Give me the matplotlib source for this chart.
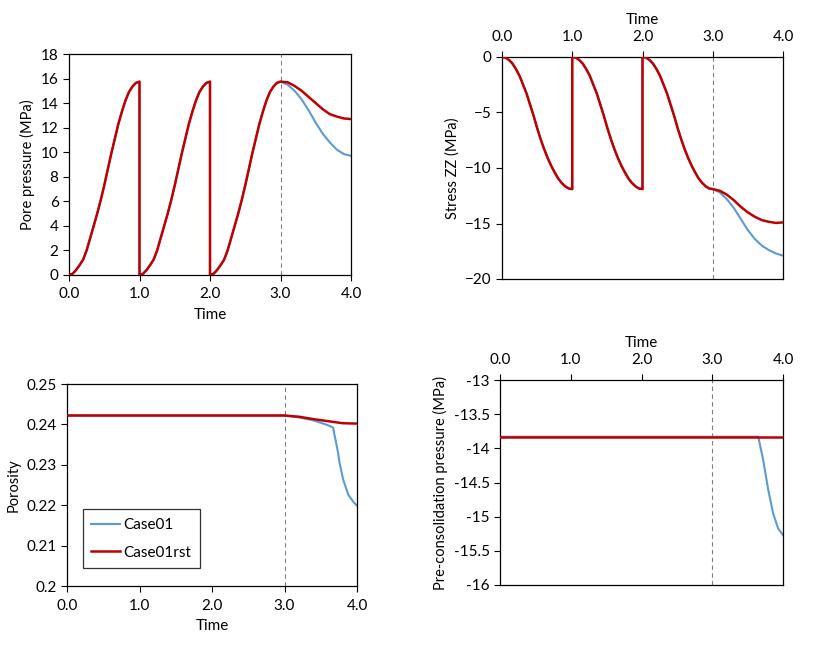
import matplotlib.pyplot as plt
import numpy as np

plt.rcParams['font.family'] = ['Lato', 'DejaVu Sans']
plt.rcParams['font.size'] = 11

BLUE = '#5B9BD5'
RED = '#C00000'

# one loading cycle (fraction of cycle)
cycle_t = [0, 0.05, 0.1, 0.15, 0.2, 0.25, 0.3, 0.35, 0.4, 0.45, 0.5,
           0.55, 0.6, 0.65, 0.7, 0.75, 0.8, 0.85, 0.9, 0.95, 1.0]
cycle_pp = [0, 0.1, 0.4, 0.8, 1.25, 2.0, 3.0, 4.0, 5.0, 6.1, 7.3,
            8.6, 9.9, 11.1, 12.3, 13.3, 14.2, 14.9, 15.35, 15.65, 15.75]
cycle_szz = [0, -0.05, -0.27, -0.6, -1.1, -1.7, -2.5, -3.3, -4.3, -5.3, -6.4,
             -7.4, -8.3, -9.1, -9.8, -10.4, -10.95, -11.35, -11.65, -11.85, -11.9]

# after restart (t = 3..4)
tail_t = [3.0, 3.1, 3.2, 3.3, 3.4, 3.5, 3.6, 3.7, 3.8, 3.9, 4.0]
pp_case01 = [15.75, 15.5, 15.0, 14.3, 13.4, 12.4, 11.5, 10.8, 10.2, 9.85, 9.7]
pp_rst = [15.75, 15.7, 15.4, 15.0, 14.5, 14.0, 13.5, 13.1, 12.9, 12.75, 12.7]
szz_case01 = [-11.9, -12.2, -12.8, -13.6, -14.6, -15.6, -16.4, -17.0, -17.4, -17.7, -17.9]
szz_rst = [-11.9, -12.05, -12.4, -12.9, -13.5, -14.0, -14.4, -14.7, -14.85, -14.95, -14.9]

por_t = [0.0, 3.0, 3.2, 3.4, 3.6, 3.67, 3.74, 3.76, 3.81, 3.88, 3.95, 4.0]
por_case01 = [0.2422, 0.2422, 0.2417, 0.2410, 0.2398, 0.2392, 0.2329, 0.2304, 0.2263, 0.2226, 0.2208, 0.2199]
por_rst_t = [0.0, 3.0, 3.2, 3.4, 3.6, 3.8, 4.0]
por_rst = [0.2422, 0.2422, 0.2419, 0.2413, 0.2408, 0.2403, 0.2402]

pc_t = [0.0, 3.65, 3.72, 3.79, 3.86, 3.93, 4.0]
pc_case01 = [-13.83, -13.83, -14.17, -14.6, -14.95, -15.17, -15.27]
pc_rst_t = [0.0, 4.0]
pc_rst = [-13.83, -13.83]

# build the three cycles
base_t = []
base_pp = []
base_szz = []
for k in range(3):
    base_t += [k + c for c in cycle_t]
    base_pp += cycle_pp
    base_szz += cycle_szz

t1 = base_t + tail_t[1:]
pp1 = base_pp + pp_case01[1:]
pp2 = base_pp + pp_rst[1:]
sz1 = base_szz + szz_case01[1:]
sz2 = base_szz + szz_rst[1:]

W, H = 813, 646
fig = plt.figure(figsize=(W / 100, H / 100), dpi=100)


def make_ax(x0, y0, x1, y1):
    return fig.add_axes([x0 / W, 1 - y1 / H, (x1 - x0) / W, (y1 - y0) / H])


def style(ax, top=False):
    ax.set_xlim(0, 4)
    ax.set_xticks([0, 1, 2, 3, 4])
    ax.set_xticklabels(['0.0', '1.0', '2.0', '3.0', '4.0'])
    ax.axvline(3.0, color='#808080', lw=0.8, ls=(0, (4, 3)), zorder=1)
    ax.tick_params(direction='out', length=4, width=0.8, labelsize=11)
    ax.tick_params(axis='x', pad=5)
    for s in ax.spines.values():
        s.set_linewidth(0.9)
    if top:
        ax.xaxis.tick_top()
        ax.xaxis.set_label_position('top')
    ax.set_xlabel('Time', fontsize=11, labelpad=5)


ax1 = make_ax(69, 54, 351, 275)
ax1.plot(t1, pp1, color=BLUE, lw=1.5, zorder=2)
ax1.plot(t1, pp2, color=RED, lw=1.8, zorder=3)
ax1.set_ylim(0, 18)
ax1.set_yticks(np.arange(0, 19, 2))
ax1.set_ylabel('Pore pressure (MPa)', fontsize=10.5)
style(ax1)

ax2 = make_ax(502, 57, 783, 279)
ax2.plot(t1, sz1, color=BLUE, lw=1.5, zorder=2)
ax2.plot(t1, sz2, color=RED, lw=1.8, zorder=3)
ax2.set_ylim(-20, 0)
ax2.set_yticks([-20, -15, -10, -5, 0])
ax2.set_ylabel('Stress ZZ (MPa)', fontsize=10.5)
style(ax2, top=True)

ax3 = make_ax(67, 384, 357, 586)
ax3.plot(por_t, por_case01, color=BLUE, lw=1.5, zorder=2, label='Case01')
ax3.plot(por_rst_t, por_rst, color=RED, lw=1.8, zorder=3, label='Case01rst')
ax3.set_ylim(0.2, 0.25)
ax3.set_yticks([0.2, 0.21, 0.22, 0.23, 0.24, 0.25])
ax3.set_yticklabels(['0.2', '0.21', '0.22', '0.23', '0.24', '0.25'])
ax3.set_ylabel('Porosity', fontsize=10.5)
style(ax3)
leg = ax3.legend(loc='lower left', bbox_to_anchor=(0.055, 0.089), frameon=True,
                 fancybox=False, edgecolor='black', handlelength=1.9,
                 handletextpad=0.2, borderpad=0.55, labelspacing=0.9,
                 borderaxespad=0, fontsize=11)
leg.get_frame().set_linewidth(0.9)

ax4 = make_ax(500, 380, 783, 585)
ax4.plot(pc_t, pc_case01, color=BLUE, lw=1.5, zorder=2)
ax4.plot(pc_rst_t, pc_rst, color=RED, lw=1.8, zorder=3)
ax4.set_ylim(-16, -13)
ax4.set_yticks([-16, -15.5, -15, -14.5, -14, -13.5, -13])
ax4.set_yticklabels(['-16', '-15.5', '-15', '-14.5', '-14', '-13.5', '-13'])
ax4.set_ylabel('Pre-consolidation pressure (MPa)', fontsize=10.5)
style(ax4, top=True)

fig.savefig('out.png', dpi=100)
